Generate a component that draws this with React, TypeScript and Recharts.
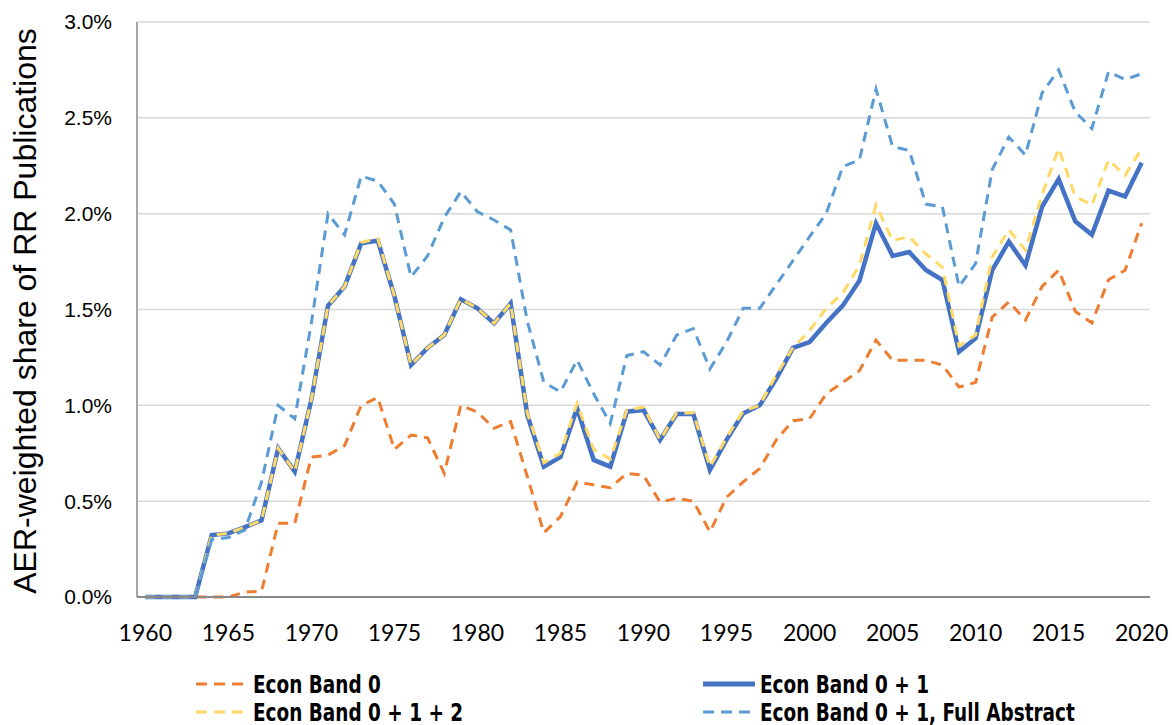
import React from "react";
import { CartesianGrid, Line, LineChart, XAxis, YAxis } from "recharts";

const years = Array.from({ length: 61 }, (_, i) => 1960 + i);

// values in percent, 1960..2020
const band0 = [
  0, 0, 0, 0, 0, 0, 0.025, 0.03, 0.385, 0.385,
  0.73, 0.74, 0.79, 1.0, 1.04, 0.77, 0.845, 0.83, 0.645, 1.0,
  0.965, 0.88, 0.915, 0.63, 0.335, 0.42, 0.6, 0.585, 0.57, 0.645,
  0.635, 0.495, 0.515, 0.5, 0.34, 0.52, 0.6, 0.67, 0.82, 0.92,
  0.93, 1.06, 1.12, 1.18, 1.34, 1.235, 1.235, 1.235, 1.21, 1.095,
  1.12, 1.46, 1.54, 1.445, 1.62, 1.705, 1.49, 1.43, 1.655, 1.705,
  1.95
];

const band01 = [
  0, 0, 0, 0, 0.323, 0.332, 0.365, 0.4, 0.776, 0.654,
  1.03, 1.52, 1.62, 1.845, 1.86, 1.57, 1.21, 1.3, 1.367, 1.553,
  1.506, 1.428, 1.532, 0.95, 0.68, 0.73, 0.985, 0.715, 0.68, 0.967,
  0.976, 0.82, 0.955, 0.955, 0.663, 0.82, 0.958, 1.0, 1.14, 1.3,
  1.33, 1.43, 1.52, 1.65, 1.95, 1.78, 1.8, 1.706, 1.654, 1.28,
  1.35, 1.706, 1.854, 1.73, 2.036, 2.18, 1.96, 1.89, 2.12, 2.09,
  2.266
];

const band012 = [
  0, 0, 0, 0, 0.323, 0.332, 0.365, 0.4, 0.776, 0.654,
  1.03, 1.52, 1.62, 1.85, 1.87, 1.57, 1.21, 1.3, 1.367, 1.555,
  1.506, 1.428, 1.532, 0.96, 0.7, 0.75, 1.01, 0.77, 0.72, 0.975,
  0.99, 0.82, 0.96, 0.96, 0.68, 0.83, 0.97, 1.0, 1.16, 1.3,
  1.39, 1.506, 1.585, 1.73, 2.045, 1.86, 1.88, 1.79, 1.72, 1.31,
  1.367, 1.775, 1.915, 1.81, 2.1, 2.34, 2.09, 2.045, 2.28, 2.2,
  2.34
];

const fullAbstract = [
  0, 0, 0, 0, 0.3, 0.31, 0.35, 0.6, 1.0, 0.93,
  1.43, 2.0, 1.89, 2.196, 2.17, 2.05, 1.67, 1.78, 1.98, 2.115,
  2.01, 1.967, 1.915, 1.44, 1.12, 1.07, 1.236, 1.06, 0.906, 1.26,
  1.28, 1.21, 1.367, 1.4, 1.19, 1.33, 1.506, 1.506, 1.63, 1.755,
  1.88, 2.0, 2.245, 2.28, 2.65, 2.35, 2.33, 2.05, 2.036, 1.62,
  1.74, 2.23, 2.4, 2.306, 2.63, 2.75, 2.53, 2.445, 2.74, 2.7,
  2.73
];

const xTicks = [1960, 1965, 1970, 1975, 1980, 1985, 1990, 1995, 2000, 2005, 2010, 2015, 2020];
const yTicks = [0, 0.5, 1, 1.5, 2, 2.5, 3];

const data = years.map((year, i) => ({
  year,
  band0: band0[i],
  band01: band01[i],
  band012: band012[i],
  fullAbstract: fullAbstract[i]
}));

const legendItems = [
  { label: "Econ Band 0", color: "#ED7D31", dash: "11 7", width: 3, x: 196, y: 684 },
  { label: "Econ Band 0 + 1", color: "#4472C4", dash: undefined, width: 5, x: 703, y: 684 },
  { label: "Econ Band 0 + 1 + 2", color: "#FFD966", dash: "11 7", width: 3, x: 196, y: 712 },
  { label: "Econ Band 0 + 1, Full Abstract", color: "#5B9BD5", dash: "11 7", width: 3, x: 703, y: 712 }
];

const sans = "'Liberation Sans', Arial, sans-serif";

export default function App() {
  return (
    <div style={{ position: "absolute", left: 0, top: 0, width: 1172, height: 725, background: "#fff" }}>
      <LineChart
        width={1172}
        height={725}
        data={data}
        margin={{ top: 22, right: 22, left: 0, bottom: 0 }}
      >
        <CartesianGrid horizontal vertical={false} stroke="#d9d9d9" strokeWidth={1.5} />
        <XAxis
          dataKey="year"
          type="number"
          domain={[1959.5, 2020.5]}
          ticks={xTicks}
          interval={0}
          height={128}
          axisLine={{ stroke: "#898989", strokeWidth: 2 }}
          tickLine={false}
          tickMargin={22}
          tick={{ fill: "#000", fontSize: 23, fontFamily: "Lato, sans-serif" }}
        />
        <YAxis
          domain={[0, 3]}
          ticks={yTicks}
          width={137}
          axisLine={{ stroke: "#898989", strokeWidth: 1.5 }}
          tickLine={false}
          tickMargin={19}
          tickFormatter={(v: number) => `${v.toFixed(1)}%`}
          tick={{ fill: "#000", fontSize: 21, fontFamily: sans }}
        />
        <Line
          type="linear"
          dataKey="band0"
          stroke="#ED7D31"
          strokeWidth={3}
          strokeDasharray="10 7"
          dot={false}
          isAnimationActive={false}
        />
        <Line
          type="linear"
          dataKey="band01"
          stroke="#4472C4"
          strokeWidth={4.5}
          dot={false}
          isAnimationActive={false}
        />
        <Line
          type="linear"
          dataKey="band012"
          stroke="#FFD966"
          strokeWidth={3}
          strokeDasharray="10 7"
          dot={false}
          isAnimationActive={false}
        />
        <Line
          type="linear"
          dataKey="fullAbstract"
          stroke="#5B9BD5"
          strokeWidth={3}
          strokeDasharray="10 7"
          dot={false}
          isAnimationActive={false}
        />
      </LineChart>
      <svg
        width={1172}
        height={725}
        style={{ position: "absolute", left: 0, top: 0, pointerEvents: "none" }}
      >
        <text
          x={25}
          y={311}
          transform="rotate(-90, 25, 311)"
          textAnchor="middle"
          dominantBaseline="central"
          fontFamily={sans}
          fontSize={32}
          fill="#000"
        >
          AER-weighted share of RR Publications
        </text>
        {legendItems.map((item) => (
          <g key={item.label}>
            <line
              x1={item.x}
              x2={item.x + 52}
              y1={item.y}
              y2={item.y}
              stroke={item.color}
              strokeWidth={item.width}
              strokeDasharray={item.dash}
            />
            <text
              transform={`translate(${item.x + 57}, ${item.y}) scale(0.855, 1)`}
              x={0}
              y={0}
              dominantBaseline="central"
              fontFamily="'DejaVu Sans Condensed', sans-serif"
              fontWeight="bold"
              fontSize={24}
              fill="#000"
            >
              {item.label}
            </text>
          </g>
        ))}
      </svg>
    </div>
  );
}
